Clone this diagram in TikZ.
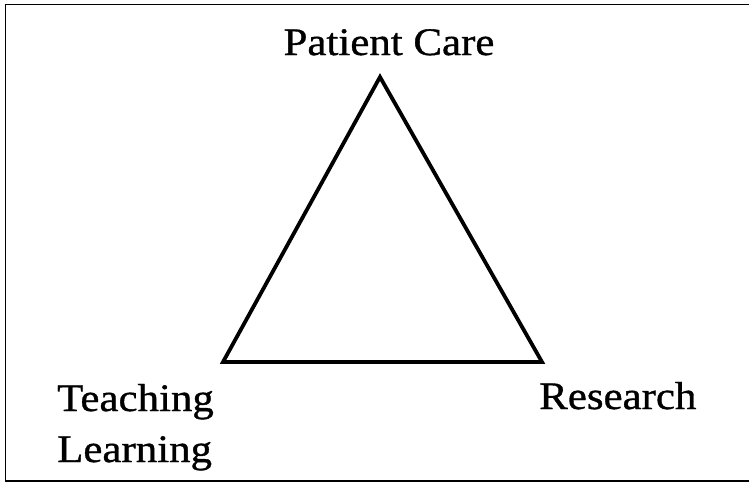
\documentclass[tikz,border=0pt]{standalone}
\usepackage{fontspec}
\setmainfont{Liberation Serif}[FakeStretch=1.1,FakeBold=0.9]
\begin{document}
\begin{tikzpicture}[x=1pt,y=-1pt,
  label text/.style={inner sep=0pt,font=\fontsize{39}{51}\selectfont},
  frame line/.style={line width=1.8pt},
  edge line/.style={line width=3.8pt,line join=miter}]
\useasboundingbox (0,0) rectangle (749,483);
% outer frame, running off the right edge
\begin{scope}
  \clip (0,0) rectangle (749,483);
  \draw[frame line] (5.5,4.5) rectangle (760,481);
\end{scope}
% triangle corners
\coordinate (top) at (380,77);
\coordinate (left) at (223,362);
\coordinate (right) at (542,362);
\draw[edge line] (top) -- (right) -- (left) -- cycle;
% corner labels
\node[label text,anchor=base] (care) at (389,55) {Patient Care};
\node[label text,anchor=base west] (teach) at (57,411) {Teaching};
\node[label text,anchor=base west] (learn) at (57,462) {Learning};
\node[label text,anchor=base west] (research) at (539,409) {Research};
\end{tikzpicture}
\end{document}
